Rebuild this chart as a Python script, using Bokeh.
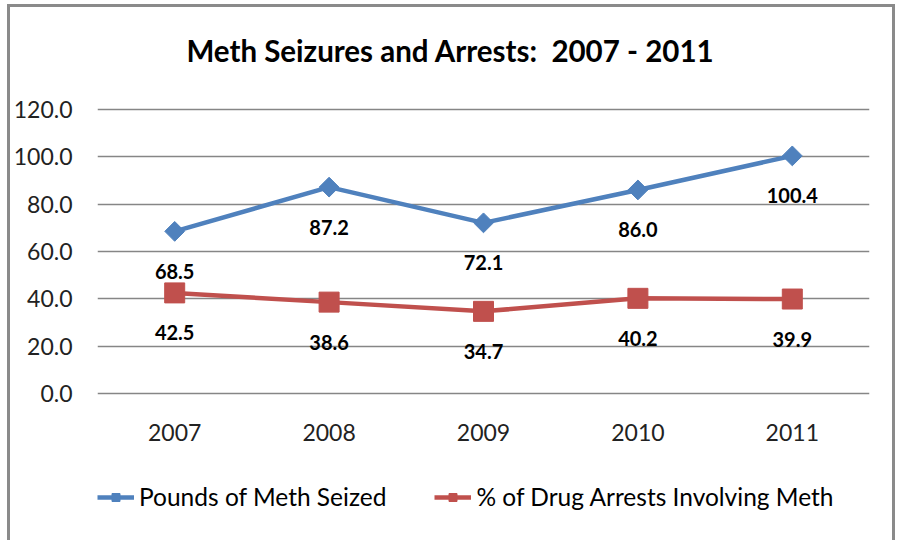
from bokeh.plotting import figure
from bokeh.models import (ColumnDataSource, FactorRange, Range1d, LabelSet, Label, Legend, LegendItem,
                          FixedTicker, NumeralTickFormatter)
from bokeh.core.properties import value
from bokeh.embed import file_html
from bokeh.resources import INLINE

years = ["2007", "2008", "2009", "2010", "2011"]
pounds_seized = [68.5, 87.2, 72.1, 86.0, 100.4]
pct_arrests = [42.5, 38.6, 34.7, 40.2, 39.9]
y_ticks = [0, 20, 40, 60, 80, 100, 120]

series_names = ["Pounds of Meth Seized", "% of Drug Arrests Involving Meth"]
title_text = "Meth Seizures and Arrests:\u00a0 2007 - 2011"
BLUE = "#4F81BD"
RED = "#C0504D"
FONT = "Lato"

src = ColumnDataSource(dict(
    x=years,
    base=[0] * len(years),
    blue=pounds_seized,
    red=pct_arrests,
    blue_lbl=[f"{v:.1f}" for v in pounds_seized],
    red_lbl=[f"{v:.1f}" for v in pct_arrests],
))

# the plotting frame covers the whole canvas height so that title, category labels
# and legend (all drawn inside it) are not clipped; y range padded accordingly
p = figure(width=888, height=536, x_range=FactorRange(*years, range_padding=0),
           y_range=Range1d(-63.4, 163.1), output_backend="svg", toolbar_location=None,
           min_border_left=87, min_border_right=29, min_border_top=0, min_border_bottom=0)
p.styles = {"margin-left": "7px", "margin-top": "4px",
            "border-left": "3px solid #8a8a8a", "border-top": "3px solid #8a8a8a",
            "border-right": "3px solid #8a8a8a"}
p.title.visible = False
p.background_fill_color = "white"
p.border_fill_color = "white"
p.outline_line_color = None

# axes
p.xaxis.visible = False
ya = p.yaxis[0]
ya.axis_line_color = None
ya.major_tick_line_color = None
ya.minor_tick_line_color = None
ya.major_label_text_font = FONT
ya.major_label_text_font_size = "23px"
ya.major_label_text_color = "#222222"
ya.ticker = FixedTicker(ticks=y_ticks)
ya.formatter = NumeralTickFormatter(format="0.0")
ya.major_label_standoff = 19
p.xgrid.grid_line_color = None
p.ygrid.grid_line_color = "#868686"
p.ygrid.grid_line_width = 1.5
p.ygrid.ticker = FixedTicker(ticks=y_ticks)

# category labels
p.add_layout(LabelSet(x="x", y="base", text="x", source=src, y_offset=-39,
                      text_align="center", text_baseline="middle",
                      text_font=value(FONT), text_font_size="23px", text_color="#222222"))

# title
p.add_layout(Label(x=353, y=493, x_units="screen", y_units="screen", text=title_text,
                   text_align="center", text_baseline="middle",
                   text_font=FONT, text_font_size="29.5px", text_font_style="bold",
                   text_color="#000000"))

# series
bl = p.line("x", "blue", source=src, line_color=BLUE, line_width=4.5)
bm = p.scatter("x", "blue", source=src, marker="square", angle=0.785398, size=14,
               fill_color=BLUE, line_color=BLUE)
rl = p.line("x", "red", source=src, line_color=RED, line_width=4.5)
rm = p.scatter("x", "red", source=src, marker="square", size=20,
               fill_color=RED, line_color=RED)

for col, ycol in (("blue_lbl", "blue"), ("red_lbl", "red")):
    p.add_layout(LabelSet(x="x", y=ycol, text=col, source=src, y_offset=-40,
                          text_align="center", text_baseline="middle",
                          text_font=value(FONT), text_font_size="20px",
                          text_font_style="bold", text_color="#000000"))

legend = Legend(items=[LegendItem(label=series_names[0], renderers=[bl, bm]),
                       LegendItem(label=series_names[1], renderers=[rl, rm])],
                orientation="horizontal", location=(0, 32),
                glyph_width=37, glyph_height=20, label_standoff=5, spacing=48,
                padding=0, margin=0, border_line_color=None, background_fill_alpha=0,
                label_text_font=FONT, label_text_font_size="24.5px", label_text_color="#000000")
p.add_layout(legend, "center")

open("out.html", "w").write(file_html(p, INLINE))
